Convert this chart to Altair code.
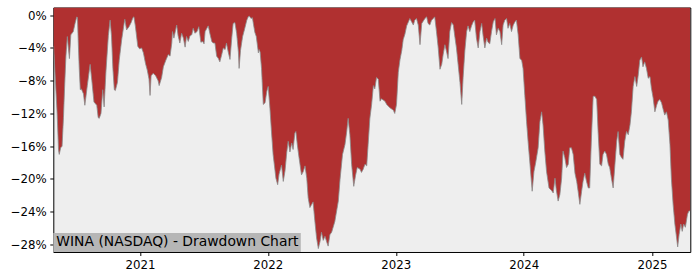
import altair as alt
import pandas as pd

# Days after 2020-04-29 for each traced point, and drawdown (%) at that point
day_offsets = [1, 6, 11, 15, 17, 21, 25, 29, 32, 36, 40, 43, 46, 50, 57, 62, 67, 69, 71, 74,
               77, 80, 86, 90, 97, 105, 110, 116, 124, 128, 131, 136, 141, 145, 150, 157, 162, 166, 170, 174,
               177, 183, 188, 195, 202, 204, 209, 216, 222, 227, 230, 234, 241, 246, 252, 257, 263, 268, 273, 276,
               279, 285, 292, 299, 302, 309, 314, 321, 328, 333, 338, 340, 344, 352, 356, 361, 366, 371, 376, 380,
               385, 390, 395, 399, 404, 410, 415, 421, 426, 430, 433, 438, 442, 447, 452, 456, 461, 466, 471, 475,
               480, 485, 490, 494, 499, 504, 509, 513, 518, 523, 528, 530, 534, 540, 545, 552, 556, 559, 564, 568,
               571, 575, 579, 585, 587, 590, 594, 599, 604, 609, 613, 618, 622, 627, 635, 640, 644, 651, 656, 661,
               666, 670, 675, 680, 684, 689, 692, 696, 701, 708, 713, 718, 723, 727, 732, 737, 741, 746, 751, 756,
               761, 765, 770, 775, 780, 784, 789, 794, 803, 813, 818, 825, 832, 837, 841, 846, 851, 857, 862, 867,
               875, 879, 884, 889, 894, 898, 903, 908, 913, 917, 922, 927, 932, 936, 946, 951, 960, 970, 974, 979,
               984, 989, 994, 998, 1003, 1008, 1017, 1022, 1027, 1031, 1036, 1041, 1046, 1051, 1060, 1065, 1069, 1074, 1079, 1084,
               1088, 1093, 1098, 1103, 1108, 1112, 1117, 1122, 1126, 1131, 1136, 1141, 1145, 1150, 1155, 1160, 1165, 1169, 1174, 1179,
               1183, 1188, 1193, 1198, 1202, 1207, 1212, 1217, 1222, 1226, 1231, 1236, 1240, 1245, 1250, 1255, 1260, 1264, 1269, 1274,
               1279, 1283, 1288, 1293, 1297, 1302, 1307, 1312, 1317, 1321, 1326, 1331, 1336, 1340, 1345, 1350, 1355, 1359, 1366, 1371,
               1376, 1383, 1388, 1393, 1397, 1402, 1407, 1414, 1421, 1426, 1431, 1435, 1440, 1445, 1450, 1454, 1459, 1464, 1469, 1473,
               1478, 1483, 1488, 1493, 1497, 1502, 1507, 1511, 1516, 1521, 1526, 1530, 1535, 1540, 1545, 1550, 1554, 1559, 1564, 1568,
               1573, 1578, 1583, 1587, 1592, 1597, 1602, 1607, 1611, 1616, 1621, 1625, 1630, 1635, 1640, 1645, 1649, 1654, 1659, 1664,
               1668, 1673, 1678, 1682, 1687, 1692, 1697, 1702, 1706, 1711, 1716, 1721, 1725, 1730, 1735, 1739, 1744, 1749, 1754, 1759,
               1763, 1768, 1773, 1778, 1781, 1785, 1790, 1794, 1798, 1803, 1809, 1813, 1817]

drawdown_pct = [-3.8, -8.0, -12.0, -16.5, -17.0, -16.2, -16.0, -12.5, -9.0, -5.0, -2.6, -4.0, -5.3, -2.4, -2.0, -1.0, -0.2, -0.3, -3.0, -6.5,
                -9.1, -9.0, -9.6, -11.0, -8.6, -6.0, -8.0, -10.6, -11.0, -12.5, -12.6, -12.0, -9.1, -11.2, -7.0, -2.5, -0.6, -2.5, -6.5, -9.1,
                -9.2, -8.2, -5.5, -3.0, -1.0, -0.5, -1.8, -1.4, -0.9, -0.3, -0.2, -1.3, -3.8, -4.1, -4.0, -4.6, -5.9, -6.7, -7.8, -9.8,
                -7.4, -7.1, -7.4, -8.0, -8.6, -7.6, -6.3, -5.5, -4.8, -5.0, -3.4, -2.0, -2.8, -1.2, -2.5, -3.4, -2.2, -2.8, -3.9, -2.6,
                -3.2, -2.5, -2.4, -1.6, -2.2, -2.0, -1.4, -3.3, -3.2, -3.5, -2.0, -1.6, -1.3, -2.3, -3.2, -3.4, -3.4, -5.0, -5.3, -5.7,
                -4.9, -4.0, -4.2, -3.4, -4.5, -5.4, -2.8, -1.0, -0.9, -2.2, -4.5, -6.5, -4.3, -2.6, -1.8, -0.6, -0.2, -0.1, -0.4, -0.3,
                -1.1, -2.1, -2.6, -4.6, -4.2, -4.5, -6.5, -10.9, -10.7, -9.3, -8.7, -11.4, -14.0, -17.0, -19.9, -20.7, -19.4, -18.3, -20.3, -19.0,
                -16.7, -15.4, -16.7, -15.6, -16.4, -14.4, -14.2, -15.8, -17.4, -19.5, -19.1, -18.4, -19.9, -22.3, -23.5, -23.1, -22.8, -25.1, -27.2, -28.5,
                -27.6, -26.5, -27.5, -27.0, -27.7, -28.2, -26.8, -26.5, -25.2, -22.7, -20.0, -17.0, -15.8, -14.2, -12.6, -14.6, -18.2, -20.9, -19.6, -18.6,
                -18.8, -19.2, -18.8, -18.2, -18.4, -15.8, -12.6, -10.9, -8.6, -9.0, -7.6, -7.8, -10.5, -10.2, -10.5, -10.9, -11.3, -11.6, -12.0, -10.9,
                -7.0, -5.4, -4.3, -3.0, -2.3, -1.3, -0.4, -0.8, -1.2, -0.6, -0.4, -1.2, -3.6, -1.0, -0.4, -0.2, -1.0, -1.2, -0.6, -0.4,
                -0.2, -2.0, -4.0, -6.6, -6.0, -4.8, -3.6, -4.5, -5.3, -2.0, -0.9, -1.2, -2.5, -4.0, -6.1, -8.2, -10.9, -7.6, -4.3, -2.0,
                -1.3, -2.0, -1.3, -0.8, -0.6, -2.8, -4.0, -2.0, -1.0, -2.5, -4.0, -2.8, -3.3, -3.5, -2.0, -0.8, -0.4, -2.4, -1.6, -2.0,
                -3.6, -1.2, -0.6, -0.4, -1.6, -1.0, -2.0, -1.2, -0.8, -0.6, -2.4, -5.3, -5.5, -6.5, -9.8, -13.0, -15.8, -17.8, -21.5, -19.1,
                -18.0, -16.2, -13.0, -11.8, -13.4, -16.6, -19.1, -21.1, -21.4, -21.7, -19.9, -21.4, -22.7, -21.9, -19.9, -16.6, -17.4, -18.6, -18.2, -16.2,
                -16.2, -17.0, -19.3, -20.3, -21.5, -23.1, -21.5, -20.3, -19.3, -20.3, -21.1, -21.1, -15.0, -9.9, -9.9, -10.3, -14.2, -18.2, -18.4, -17.0,
                -16.6, -17.0, -18.2, -18.6, -19.9, -21.1, -18.2, -15.4, -14.2, -17.0, -17.4, -17.6, -15.4, -14.2, -14.6, -13.4, -11.8, -8.7, -7.5, -8.7,
                -7.5, -5.5, -5.1, -6.3, -5.7, -6.5, -7.7, -7.5, -8.9, -10.1, -11.8, -11.0, -10.5, -10.3, -10.7, -11.4, -12.2, -11.8, -12.8, -15.8,
                -19.9, -23.1, -25.5, -27.2, -28.3, -26.8, -25.5, -26.4, -25.5, -25.9, -24.3, -23.9, -23.9]

year_ticks = [2021, 2022, 2023, 2024, 2025]
y_ticks = [0, -4, -8, -12, -16, -20, -24, -28]
title_text = "WINA (NASDAQ) - Drawdown Chart"

start = pd.Timestamp("2020-04-29")
df = pd.DataFrame({
    "date": start + pd.to_timedelta(day_offsets, unit="D"),
    "dd": drawdown_pct,
})

W, H = 637, 244.5
Y_TOP = 0.94
FONT = "DejaVu Sans"

x_enc = alt.X(
    "date:T",
    scale=alt.Scale(domain=[alt.DateTime(year=2020, month=4, date=29),
                            alt.DateTime(year=2025, month=4, date=20)]),
    axis=alt.Axis(values=[alt.DateTime(year=y, month=1, date=1) for y in year_ticks],
                  format="%Y", title=None, grid=False, domain=False,
                  tickSize=3.5, tickColor="black", labelColor="black",
                  labelFont=FONT, labelFontSize=11.8, labelPadding=4,
                  labelOverlap=False, labelFlush=False),
)
y_enc = alt.Y(
    "dd:Q",
    scale=alt.Scale(domain=[-28.92, Y_TOP], nice=False, zero=False),
    axis=alt.Axis(values=y_ticks, title=None, grid=False, domain=False,
                  tickSize=3.5, tickColor="black", labelColor="black",
                  labelFont=FONT, labelFontSize=11.8, labelPadding=3.5,
                  labelOverlap=False, labelFlush=False, labelBound=False,
                  labelExpr="datum.value == 0 ? '0%' : '\u2212' + abs(datum.value) + '%'"),
)

area = alt.Chart(df).mark_area(color="#b03030", clip=True).encode(
    x=x_enc, y=y_enc, y2=alt.datum(Y_TOP)
)
edge = alt.Chart(df).mark_line(color="#8a8a8a", strokeWidth=1, opacity=0.8, clip=True).encode(
    x=x_enc, y=y_enc
)
box = alt.Chart(pd.DataFrame({"t": [title_text]})).mark_rect(color="#b6b6b6").encode(
    x=alt.value(0), x2=alt.value(247.5), y=alt.value(225.5), y2=alt.value(H)
)
label = alt.Chart(pd.DataFrame({"t": [title_text]})).mark_text(
    align="left", baseline="alphabetic", font=FONT, fontSize=13.9, color="black"
).encode(x=alt.value(3), y=alt.value(238.7), text="t:N")

chart = alt.layer(area, edge, box, label).properties(
    width=W, height=H,
    autosize=alt.AutoSizeParams(type="none"),
    padding={"left": 53.3, "top": 7.5, "right": 9, "bottom": 28},
    background="white",
).configure_view(
    fill="#eeeeee", stroke="black", strokeWidth=1
).configure_axis(
    labelOverlap=False
)

chart.save("out.html", embed_options={"renderer": "svg", "actions": False})
